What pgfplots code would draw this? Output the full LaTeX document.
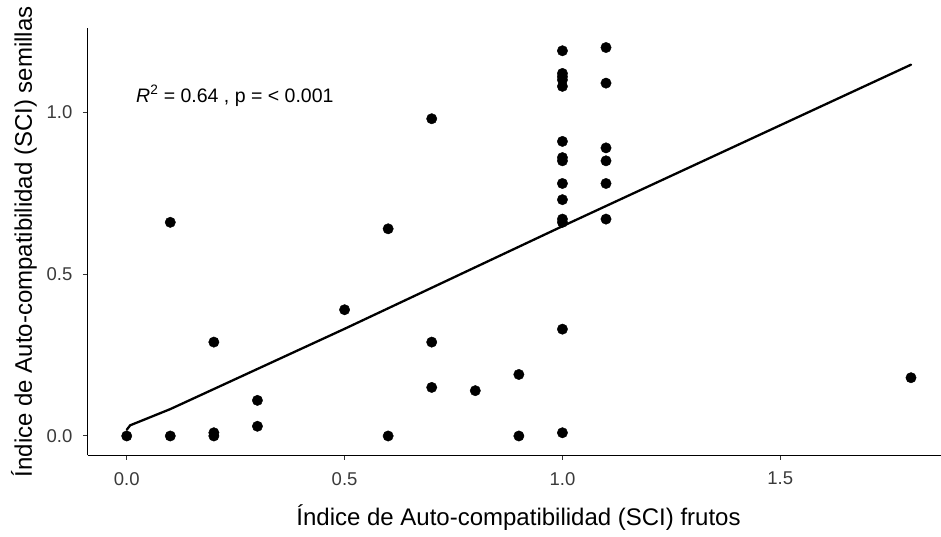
\documentclass[border=0pt]{standalone}
\usepackage{fontspec}
\setmainfont{Liberation Sans}
\usepackage{pgfplots}
\pgfplotsset{compat=1.18}
\definecolor{ticktext}{HTML}{3A3A3A}
\definecolor{tickline}{HTML}{333333}

\begin{document}
\begin{tikzpicture}[x=1pt,y=1pt]
\useasboundingbox (0,0) rectangle (941,536);
\begin{axis}[
  at={(87.5pt,80.6pt)}, anchor=south west,
  scale only axis, width=854pt, height=427.3pt,
  xmin=-0.09, xmax=1.87, ymin=-0.06, ymax=1.26,
  axis x line*=bottom, axis y line*=left,
  axis line style={black, line width=1.1pt, -},
  xtick={0,0.5,1,1.5}, xticklabels={0.0,0.5,1.0,1.5},
  ytick={0,0.5,1}, yticklabels={0.0,0.5,1.0},
  tick align=outside, major tick length=4.5pt,
  tick style={tickline, line width=1pt},
  ticklabel style={font=\fontsize{18.5}{20}\selectfont, text=ticktext, inner sep=0pt},
  xticklabel style={anchor=north, yshift=-12pt},
  yticklabel style={anchor=east, xshift=-10.5pt},
  xlabel={Índice de Auto-compatibilidad (SCI) frutos},
  ylabel={Índice de Auto-compatibilidad (SCI) semillas},
  every axis x label/.style={at={(axis description cs:0.5047,-0.1629)}, anchor=base, font=\fontsize{24}{28}\selectfont},
  every axis y label/.style={at={(axis description cs:-0.065,0.5)}, rotate=90, anchor=base, font=\fontsize{24}{28}\selectfont},
  clip=false,
]
% observed index pairs (fruits, seeds)
\addplot[only marks, mark=*, mark size=5.2pt, black] coordinates {
  (0,0) (0.1,0) (0.1,0.66) (0.2,0) (0.2,0.01) (0.2,0.29)
  (0.3,0.03) (0.3,0.11) (0.5,0.39) (0.6,0) (0.6,0.64)
  (0.7,0.98) (0.7,0.29) (0.7,0.15) (0.8,0.14) (0.9,0.19) (0.9,0)
  (1.0,1.19) (1.0,1.12) (1.0,1.11) (1.0,1.10) (1.0,1.08) (1.0,0.91)
  (1.0,0.86) (1.0,0.85) (1.0,0.78) (1.0,0.73) (1.0,0.67) (1.0,0.66)
  (1.0,0.33) (1.0,0.01)
  (1.1,1.20) (1.1,1.09) (1.1,0.89) (1.1,0.85) (1.1,0.78) (1.1,0.67)
  (1.8,0.18)
};
% fitted trend
\addplot[black, line width=2.3pt, line join=round, line cap=round] coordinates {
  (0,0.019) (0.008,0.033) (0.1,0.083) (0.5,0.331) (1.0,0.648) (1.8,1.147)
};
\node[anchor=base west, inner sep=0pt, font=\fontsize{19.5}{22}\selectfont]
  at (axis cs:0.0213,1.031) {\textit{R}\textsuperscript{2} = 0.64 , p = < 0.001};
\end{axis}
\end{tikzpicture}
\end{document}
